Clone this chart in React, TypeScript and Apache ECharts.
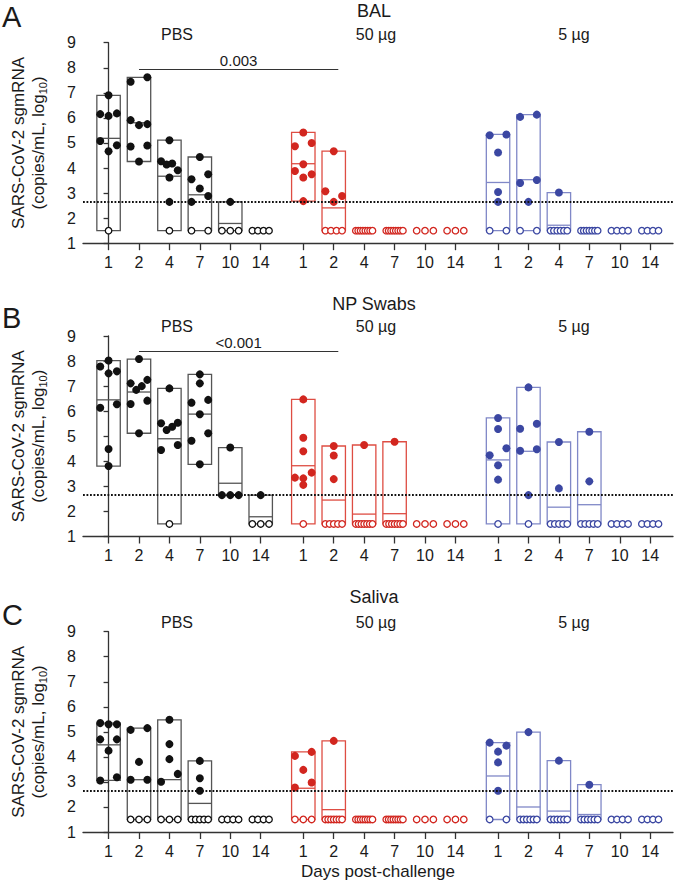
import React, { useEffect, useRef } from 'react';
import * as echarts from 'echarts';

// ---------- data ----------
const DAYS = ['1', '2', '4', '7', '10', '14'];
const GROUPS = ['PBS', '50 µg', '5 µg'];
const PANELS = ['BAL', 'NP Swabs', 'Saliva'];
const LETTERS = ['A', 'B', 'C'];
const LOD = 2.65;
const P_VALUES = ['0.003', '<0.001', ''];
const P_BAR_LEVEL = [7.94, 8.41, 0];

// values per day (log10 copies/mL); 1.5 = below limit of detection
const BAL_PBS = [
  [6.9, 6.15, 6.08, 6.18, 5.08, 4.91, 4.67, 1.5],
  [7.44, 7.62, 5.91, 5.71, 5.75, 4.86, 4.9, 4.26],
  [5.11, 4.27, 4.14, 4.18, 3.62, 3.91, 2.65, 1.5],
  [4.44, 3.55, 3.75, 3.18, 2.65, 2.88, 1.5, 1.5],
  [2.65, 1.5, 1.5, 1.5],
  [1.5, 1.5, 1.5, 1.5],
];
const BAL_50 = [
  [5.42, 4.87, 5.0, 4.15, 3.88, 3.62, 3.75, 2.68],
  [4.67, 3.07, 2.65, 2.88, 1.5, 1.5, 1.5, 1.5],
  [1.5, 1.5, 1.5, 1.5, 1.5, 1.5, 1.5, 1.5],
  [1.5, 1.5, 1.5, 1.5, 1.5, 1.5, 1.5, 1.5],
  [1.5, 1.5, 1.5],
  [1.5, 1.5, 1.5],
];
const BAL_5 = [
  [5.31, 5.34, 4.62, 3.04, 2.65, 1.5, 1.5],
  [6.04, 6.13, 3.4, 3.52, 2.65, 1.5, 1.5],
  [3.02, 1.5, 1.5, 1.5, 1.5, 1.5, 1.5],
  [1.5, 1.5, 1.5, 1.5, 1.5, 1.5, 1.5],
  [1.5, 1.5, 1.5, 1.5],
  [1.5, 1.5, 1.5, 1.5],
];
const NP_PBS = [
  [8.02, 7.78, 7.51, 7.59, 6.14, 6.28, 4.49, 3.81],
  [8.08, 7.11, 6.85, 7.0, 7.25, 6.29, 6.42, 5.12],
  [6.91, 5.52, 5.25, 5.38, 5.54, 4.45, 4.65, 1.5],
  [7.47, 7.11, 6.34, 6.45, 5.88, 4.82, 5.12, 3.88],
  [4.55, 2.65, 2.65, 2.65],
  [2.65, 1.5, 1.5, 1.5],
];
const NP_50 = [
  [6.47, 4.94, 4.4, 3.35, 3.06, 3.32, 3.55, 1.5],
  [4.61, 4.23, 3.29, 1.5, 1.5, 1.5, 1.5, 1.5],
  [4.65, 1.5, 1.5, 1.5, 1.5, 1.5, 1.5, 1.5],
  [4.78, 1.5, 1.5, 1.5, 1.5, 1.5, 1.5, 1.5],
  [1.5, 1.5, 1.5],
  [1.5, 1.5, 1.5],
];
const NP_5 = [
  [5.73, 5.29, 4.24, 4.52, 3.84, 3.27, 1.5],
  [6.95, 5.3, 5.5, 4.42, 4.48, 2.65, 1.5],
  [4.77, 2.92, 1.5, 1.5, 1.5, 1.5, 1.5],
  [5.18, 3.2, 1.5, 1.5, 1.5, 1.5, 1.5],
  [1.5, 1.5, 1.5, 1.5],
  [1.5, 1.5, 1.5, 1.5],
];
const SAL_PBS = [
  [5.35, 5.3, 5.3, 4.7, 4.7, 4.25, 3.06, 3.19],
  [5.08, 5.15, 3.8, 3.09, 3.09, 1.5, 1.5, 1.5],
  [5.48, 4.51, 3.91, 3.01, 3.32, 1.5, 1.5, 1.5],
  [3.84, 3.15, 2.65, 1.5, 1.5, 1.5, 1.5, 1.5],
  [1.5, 1.5, 1.5, 1.5],
  [1.5, 1.5, 1.5, 1.5],
];
const SAL_50 = [
  [4.04, 4.2, 3.48, 2.78, 2.98, 1.5, 1.5, 1.5],
  [4.64, 1.5, 1.5, 1.5, 1.5, 1.5, 1.5, 1.5],
  [1.5, 1.5, 1.5, 1.5, 1.5, 1.5, 1.5, 1.5],
  [1.5, 1.5, 1.5, 1.5, 1.5, 1.5, 1.5, 1.5],
  [1.5, 1.5, 1.5],
  [1.5, 1.5, 1.5],
];
const SAL_5 = [
  [4.57, 4.45, 4.21, 3.78, 2.65, 1.5, 1.5],
  [4.99, 1.5, 1.5, 1.5, 1.5, 1.5, 1.5],
  [3.85, 1.5, 1.5, 1.5, 1.5, 1.5, 1.5],
  [2.89, 1.5, 1.5, 1.5, 1.5, 1.5, 1.5],
  [1.5, 1.5, 1.5, 1.5],
  [1.5, 1.5, 1.5, 1.5],
];

const DATA = [
  [BAL_PBS, BAL_50, BAL_5],
  [NP_PBS, NP_50, NP_5],
  [SAL_PBS, SAL_50, SAL_5],
];

// ---------- style / layout ----------
const FONT = "'Liberation Sans', Arial, Helvetica, sans-serif";
const DOT_COLORS = ['#111111', '#d2261f', '#3b47a2'];
const BOX_COLORS = ['#555555', '#de4d43', '#8088c7'];
const AXIS_COLOR = '#333333';
const TEXT_COLOR = '#1a1a1a';

const GROUP_GAP = 6.4;
const X_MIN = -0.84;
const X_MAX = 18.55;
const HALF_BOX = 0.385;
const SPREAD = 0.274;
const CHAIN = 0.235;
const PAIR = 0.33;

const PANEL_TOPS = [42.7, 336, 631.7];
const PANEL_HEIGHT = 200.5;
const GRID_LEFT = 72;
const GRID_WIDTH = 601;
const TITLE_Y = [10.5, 304, 597];
const GROUP_LABEL_Y = [34, 326.5, 622.5];
const GROUP_LABEL_X = [177, 376, 574];
const LETTER_Y = [17, 318, 615];

const pos = (g: number, d: number) => g * GROUP_GAP + d;
const POSITIONS: number[] = [];
const POS_LABELS: string[] = [];
GROUPS.forEach((_, g) =>
  DAYS.forEach((day, d) => {
    POSITIONS.push(pos(g, d));
    POS_LABELS.push(day);
  })
);

function labelFor(v: number) {
  for (let k = 0; k < POSITIONS.length; k++) {
    if (Math.abs(POSITIONS[k] - v) < 1e-4) return POS_LABELS[k];
  }
  return '';
}

// horizontal spreading of dots (GraphPad-like rows)
function offsets(values: number[]) {
  const idx = values.map((_, i) => i).sort((a, b) => values[b] - values[a] || a - b);
  const clusters: number[][] = [];
  let cur: number[] = [];
  for (const i of idx) {
    if (cur.length && values[cur[cur.length - 1]] - values[i] >= CHAIN) {
      clusters.push(cur);
      cur = [];
    }
    cur.push(i);
  }
  if (cur.length) clusters.push(cur);
  const merged: number[][] = [];
  for (let k = 0; k < clusters.length; k++) {
    const c = clusters[k];
    const n = clusters[k + 1];
    if (c.length === 1 && n && n.length === 1 && values[c[0]] - values[n[0]] < PAIR) {
      merged.push([c[0], n[0]]);
      k++;
    } else merged.push(c);
  }
  const off = values.map(() => 0);
  for (const c of merged) {
    const ordered = [...c].sort((a, b) => a - b);
    const k = ordered.length;
    ordered.forEach((i, j) => {
      off[i] = k === 1 ? 0 : -SPREAD + (2 * SPREAD * j) / (k - 1);
    });
  }
  return off;
}

function buildOption() {
  const grid = PANEL_TOPS.map((t) => ({
    left: GRID_LEFT,
    top: t,
    width: GRID_WIDTH,
    height: PANEL_HEIGHT,
  }));

  const xAxis = PANEL_TOPS.map((_, p) => ({
    type: 'value',
    gridIndex: p,
    min: X_MIN,
    max: X_MAX,
    splitLine: { show: false },
    axisLine: { show: true, onZero: false, lineStyle: { color: AXIS_COLOR, width: 1.3 } },
    axisTick: { show: true, customValues: POSITIONS, length: 7, lineStyle: { color: AXIS_COLOR, width: 1.3 } },
    axisLabel: {
      show: true,
      customValues: POSITIONS,
      formatter: (v: number) => labelFor(v),
      margin: 11,
      fontSize: 16,
      color: TEXT_COLOR,
      fontFamily: FONT,
    },
    name: p === 2 ? 'Days post-challenge' : '',
    nameLocation: 'middle',
    nameGap: 31,
    nameTextStyle: { fontSize: 17, color: TEXT_COLOR, fontFamily: FONT },
  }));

  const yAxis = PANEL_TOPS.map((_, p) => ({
    type: 'value',
    gridIndex: p,
    min: 1,
    max: 9,
    interval: 1,
    splitLine: { show: false },
    axisLine: { show: true, lineStyle: { color: AXIS_COLOR, width: 1.3 } },
    axisTick: { show: true, length: 5, lineStyle: { color: AXIS_COLOR, width: 1.3 } },
    axisLabel: { margin: 7, fontSize: 16, color: TEXT_COLOR, fontFamily: FONT },
    name: 'SARS-CoV-2 sgmRNA\n(copies/mL, log{sub|10})',
    nameLocation: 'middle',
    nameRotate: 90,
    nameGap: 35,
    nameTextStyle: {
      fontSize: 17,
      lineHeight: 20,
      color: TEXT_COLOR,
      fontFamily: FONT,
      rich: {
        sub: { fontSize: 11, lineHeight: 11, verticalAlign: 'bottom', color: TEXT_COLOR, fontFamily: FONT },
      },
    },
  }));

  const series: any[] = [];
  DATA.forEach((panel, p) => {
    panel.forEach((groupDays, g) => {
      const boxData = groupDays.map((vals, d) => {
        const lo = Math.min(...vals);
        const hi = Math.max(...vals);
        const mean = vals.reduce((s, v) => s + v, 0) / vals.length;
        return [pos(g, d), lo, hi, mean];
      });
      const color = BOX_COLORS[g];
      series.push({
        type: 'custom',
        xAxisIndex: p,
        yAxisIndex: p,
        z: 1,
        clip: false,
        silent: true,
        encode: { x: 0, y: [1, 2, 3] },
        data: boxData,
        renderItem: (params: any, api: any) => {
          const x = api.value(0);
          const lo = api.value(1);
          const hi = api.value(2);
          const m = api.value(3);
          const tl = api.coord([x - HALF_BOX, hi]);
          const br = api.coord([x + HALF_BOX, lo]);
          const ml = api.coord([x - HALF_BOX, m]);
          const mr = api.coord([x + HALF_BOX, m]);
          const children: any[] = [];
          if (hi - lo > 1e-6) {
            children.push({
              type: 'rect',
              shape: { x: tl[0], y: tl[1], width: br[0] - tl[0], height: br[1] - tl[1] },
              style: { fill: 'none', stroke: color, lineWidth: 1.3 },
            });
            children.push({
              type: 'line',
              shape: { x1: ml[0], y1: ml[1], x2: mr[0], y2: mr[1] },
              style: { stroke: color, lineWidth: 1.3 },
            });
          }
          return { type: 'group', children };
        },
      });

      const filled: number[][] = [];
      const open: number[][] = [];
      groupDays.forEach((vals, d) => {
        const off = offsets(vals);
        vals.forEach((v, i) => {
          const pt = [pos(g, d) + off[i], v];
          if (v >= LOD - 1e-9) filled.push(pt);
          else open.push(pt);
        });
      });

      const filledSeries: any = {
        type: 'scatter',
        xAxisIndex: p,
        yAxisIndex: p,
        z: 3,
        silent: true,
        symbol: 'circle',
        symbolSize: 8,
        itemStyle: { color: DOT_COLORS[g], opacity: 1 },
        data: filled,
      };
      const openSeries: any = {
        type: 'scatter',
        xAxisIndex: p,
        yAxisIndex: p,
        z: 4,
        silent: true,
        symbol: 'circle',
        symbolSize: 6.5,
        itemStyle: { color: '#ffffff', borderColor: DOT_COLORS[g], borderWidth: 1.3, opacity: 1 },
        data: open,
      };
      if (g === 0) {
        filledSeries.markLine = {
          silent: true,
          symbol: 'none',
          animation: false,
          label: { show: false },
          lineStyle: { color: '#111111', width: 1.8, type: [1.8, 1.7] },
          data: [{ yAxis: LOD }],
        };
        if (P_VALUES[p]) {
          openSeries.markLine = {
            silent: true,
            symbol: 'none',
            animation: false,
            lineStyle: { color: AXIS_COLOR, width: 1.2, type: 'solid' },
            label: {
              show: true,
              position: 'insideMiddleTop',
              formatter: P_VALUES[p],
              distance: 1,
              fontSize: 15,
              color: TEXT_COLOR,
              fontFamily: FONT,
            },
            data: [
              [
                { coord: [pos(0, 1), P_BAR_LEVEL[p]] },
                { coord: [pos(1, 1) + 0.15, P_BAR_LEVEL[p]] },
              ],
            ],
          };
        }
      }
      series.push(filledSeries, openSeries);
    });
  });

  const graphic: any[] = [];
  PANELS.forEach((title, p) => {
    graphic.push({
      type: 'text',
      x: 2,
      y: LETTER_Y[p],
      style: { text: LETTERS[p], fontSize: 29, fill: TEXT_COLOR, fontFamily: FONT, verticalAlign: 'middle', align: 'left' },
    });
    graphic.push({
      type: 'text',
      x: 374,
      y: TITLE_Y[p],
      style: { text: title, fontSize: 18, fill: TEXT_COLOR, fontFamily: FONT, verticalAlign: 'middle', align: 'center' },
    });
    GROUPS.forEach((gName, g) => {
      graphic.push({
        type: 'text',
        x: GROUP_LABEL_X[g],
        y: GROUP_LABEL_Y[p],
        style: { text: gName, fontSize: 16, fill: TEXT_COLOR, fontFamily: FONT, verticalAlign: 'middle', align: 'center' },
      });
    });
  });

  return {
    animation: false,
    backgroundColor: '#ffffff',
    grid,
    xAxis,
    yAxis,
    series,
    graphic,
  };
}

export default function App() {
  const ref = useRef<HTMLDivElement>(null);
  useEffect(() => {
    document.body.style.margin = '0';
    if (!ref.current) return;
    const chart = echarts.init(ref.current, undefined, { renderer: 'svg' });
    chart.setOption(buildOption() as any);
    return () => chart.dispose();
  }, []);
  return (
    <div
      ref={ref}
      style={{ position: 'absolute', left: 0, top: 0, width: 676, height: 881, background: '#fff' }}
    />
  );
}
